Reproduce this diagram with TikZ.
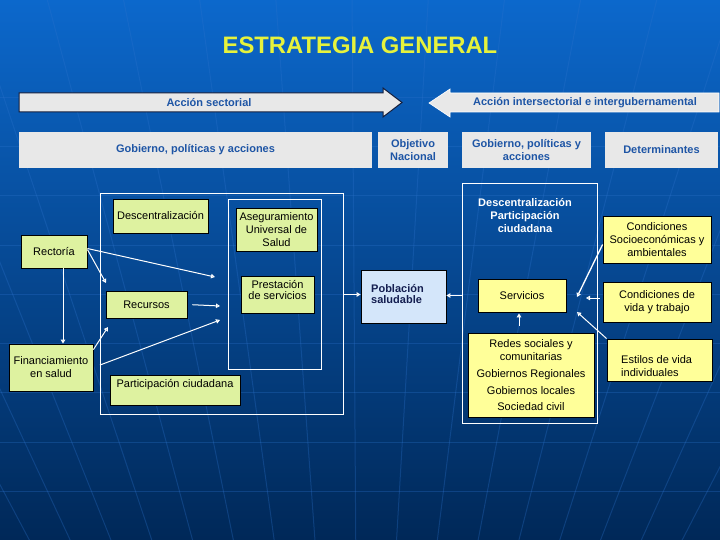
\documentclass[tikz,border=0pt]{standalone}
\usepackage{fontspec}
\setmainfont{Liberation Sans}
\usetikzlibrary{arrows.meta,calc}
\definecolor{bgtop}{RGB}{12,104,204}
\definecolor{bgmid}{RGB}{6,72,160}
\definecolor{bgbot}{RGB}{0,40,88}
\definecolor{gridc}{RGB}{45,115,205}
\definecolor{titley}{RGB}{230,242,60}
\definecolor{boxgray}{RGB}{232,232,232}
\definecolor{txtblue}{RGB}{30,85,165}
\definecolor{boxgreen}{RGB}{222,242,160}
\definecolor{boxyel}{RGB}{255,255,153}
\definecolor{boxblue}{RGB}{212,230,250}
\definecolor{navy}{RGB}{20,30,80}
\newcommand\myrg{\fontsize{11}{13}\selectfont}
\newcommand\mybf{\fontsize{11}{13}\selectfont\bfseries}
\begin{document}
\begin{tikzpicture}[x=1pt,y=-1pt,
  gbox/.style={fill=boxgray, draw=none, inner sep=0pt, font=\mybf, text=txtblue, align=center},
  grn/.style={fill=boxgreen, draw=black, line width=0.8pt, inner sep=0pt, font=\myrg, align=center},
  yel/.style={fill=boxyel, draw=black, line width=0.8pt, inner sep=0pt, font=\myrg, align=center},
  frm/.style={draw=white, line width=0.8pt, inner sep=0pt},
  arr/.style={draw=white, line width=1pt, -{Triangle[open,length=4pt,width=4.5pt]}},
  lbl/.style={inner sep=0pt, align=center, font=\myrg},
  gridline/.style={draw=gridc, line width=1pt, opacity=0.3},
]
\useasboundingbox (0,0) rectangle (720,540);
% background
\shade[top color=bgtop, middle color=bgmid, bottom color=bgbot] (0,0) rectangle (720,540);
\begin{scope}
\clip (0,0) rectangle (720,540);
\foreach \yy in {98,147,196,245,294,343,392,442,491}
  \draw[gridline] (0,\yy) -- (720,\yy);
\foreach \xx in {-29,19,67,115,163,211,259,307,355,403,451,499,547,595,643,691,739}
  \draw[gridline] ({360+(\xx-360)*1.587},0) -- ({360+(\xx-360)*0.85},540);
\end{scope}

% title
\node[text=titley, font=\fontsize{23.8}{26}\selectfont\bfseries] (title) at (360,45) {ESTRATEGIA GENERAL};

% big arrows
\draw[fill=boxgray, draw={rgb,255:red,20;green,30;blue,60}, line width=1pt]
  (19,93) -- (383,93) -- (383,88) -- (402,102.5) -- (383,117) -- (383,112) -- (19,112) -- cycle;
\node[font=\mybf, text=txtblue] (sect) at (209,103) {Acción sectorial};
\draw[fill=boxgray, draw=white, line width=0.6pt]
  (719,93) -- (450,93) -- (450,89) -- (429,103) -- (450,117) -- (450,112) -- (719,112) -- cycle;
\node[font=\mybf, text=txtblue] (inter) at (585,103) {Acción intersectorial e intergubernamental};

% second row
\node[gbox, minimum width=353, minimum height=36] (gob1) at (195.5,150) {Gobierno, políticas y acciones};
\node[gbox, minimum width=70, minimum height=36] (obj) at (413,150) {Objetivo\\Nacional};
\node[gbox, minimum width=129, minimum height=36] (gob2) at (526.5,150) {Gobierno, políticas y\\acciones};
\node[gbox, minimum width=113, minimum height=36] (det) at (661.5,150) {Determinantes};

% left frames
\node[frm, minimum width=243, minimum height=221] (frameL) at (221.5,303.5) {};
\node[frm, minimum width=93, minimum height=170] (frameI) at (274.5,284) {};

% green boxes
\node[grn, minimum width=66, minimum height=33] (rect) at (54,251.5) {Rectoría};
\node[grn, minimum width=95, minimum height=34] (desc) at (160.5,216) {Descentralización};
\node[grn, minimum width=81, minimum height=43] (aseg) at (276.5,229.5) {Aseguramiento\\Universal de\\Salud};
\node[grn, minimum width=73, minimum height=37] (prest) at (277.5,294.5) {};
\node[lbl, font=\fontsize{11}{11}\selectfont] (prestT) at (277.5,290) {Prestación\\de servicios};
\node[grn, minimum width=81, minimum height=27] (recur) at (146.5,304.5) {Recursos};
\node[grn, minimum width=84, minimum height=47] (fin) at (51,367.5) {Financiamiento\\en salud};
\node[grn, minimum width=130, minimum height=30] (part) at (175,390) {};
\node[lbl] (partT) at (175,385) {Participación ciudadana};

% poblacion
\node[fill=boxblue, draw=black, line width=0.8pt, minimum width=85, minimum height=53, inner sep=0pt] (pob) at (403.5,296.5) {};
\node[anchor=west, inner sep=0pt, align=left, text=navy, font=\fontsize{11}{11.5}\selectfont\bfseries] (pobT) at (371,294) {Población\\saludable};

% right frame
\node[frm, minimum width=135, minimum height=240] (frameR) at (529.5,303) {};
\node[lbl, text=white, font=\mybf] (frameRT) at (525,216) {Descentralización\\Participación\\ciudadana};
\node[yel, minimum width=88, minimum height=33] (serv) at (522,295.5) {Servicios};
\node[yel, minimum width=126, minimum height=84] (redes) at (531,375) {Redes sociales y\\comunitarias\\[4pt]Gobiernos Regionales\\[4pt]Gobiernos locales\\[3pt]Sociedad civil};
\node[yel, minimum width=108, minimum height=47] (condS) at (657,239.5) {Condiciones\\Socioeconómicas y\\ambientales};
\node[yel, minimum width=108, minimum height=40] (condV) at (657,302) {Condiciones de\\vida y trabajo};
\node[yel, minimum width=105, minimum height=42] (estil) at (659.5,360) {};
\node[anchor=west, inner sep=0pt, align=left, font=\myrg] (estilT) at (621,366.5) {Estilos de vida\\individuales};

% coordinates
\coordinate (c1) at (215,277);
\coordinate (c2) at (106,283);
\coordinate (c3) at (220,306);
\coordinate (c4) at (108,327);
\coordinate (c5) at (220,320);
\coordinate (c6) at (577,297);
\coordinate (c7) at (586,298);
\coordinate (c8) at (577,312);
\coordinate (vx) at (63,0);
\coordinate (ux) at (519,0);

% connectors left
\draw[arr] ($(rect.east)+(0,-3)$) -- (c1);
\draw[arr] ($(rect.east)+(0,-2)$) -- (c2);
\draw[arr] (rect.south -| vx) -- (fin.north -| vx);
\draw[arr, shorten <=5pt] (recur.east) -- (c3);
\draw[arr] ($(fin.north east)+(0,6)$) -- (c4);
\draw[arr, shorten <=7pt] (fin.east) -- (c5);
\draw[arr] (prest.east -| frameL.east) -- (prest.east -| pob.west);

% connectors right
\draw[arr] (serv.west -| frameR.west) -- (serv.west -| pob.east);
\draw[arr, line width=1.3pt] ($(condS.west)+(0,5)$) -- (c6);
\draw[arr, shorten <=3pt] ($(condV.west)+(0,-4)$) -- (c7);
\draw[arr] (estil.north west) -- (c8);
\draw[arr, shorten <=7pt, shorten >=1pt] (redes.north -| ux) -- (serv.south -| ux);
\end{tikzpicture}
\end{document}
